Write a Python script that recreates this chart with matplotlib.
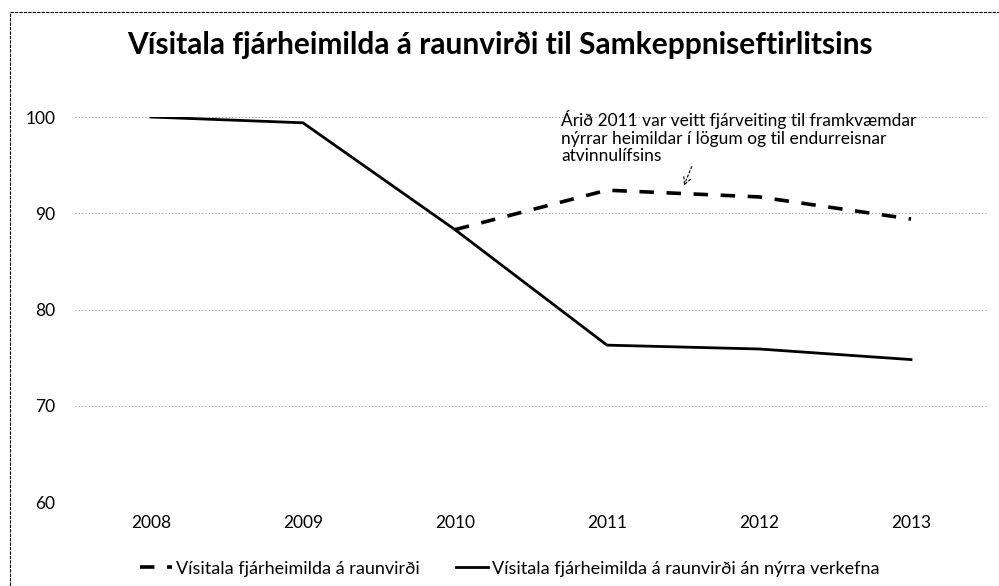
import matplotlib.pyplot as plt
from matplotlib.patches import Rectangle

plt.rcParams['font.family'] = ['Lato', 'DejaVu Sans']

years = ["2008", "2009", "2010", "2011", "2012", "2013"]
# dashed series only starts in 2010
med_nyjum = [None, None, 88.3, 92.4, 91.7, 89.4]
an_nyrra = [100.0, 99.4, 88.3, 76.3, 75.9, 74.8]

label_med = "Vísitala fjárheimilda á raunvirði"
label_an = "Vísitala fjárheimilda á raunvirði án nýrra verkefna"
title = "Vísitala fjárheimilda á raunvirði til Samkeppniseftirlitsins"
note = ("Árið 2011 var veitt fjárveiting til framkvæmdar\n"
        "nýrrar heimildar í lögum og til endurreisnar\n"
        "atvinnulífsins")

fig = plt.figure(figsize=(9.99, 5.86), dpi=100)
ax = fig.add_axes([0.075, 0.1433, 0.913, 0.657])

x = list(range(len(years)))
xd = [i for i, v in zip(x, med_nyjum) if v is not None]
yd = [v for v in med_nyjum if v is not None]

ax.plot(xd, yd, color="black", linewidth=2.6, linestyle=(0, (4, 3.5)),
        label=label_med)
ax.plot(x, an_nyrra, color="black", linewidth=2.0, label=label_an)

ax.set_xlim(-0.5, len(years) - 0.5)
ax.set_ylim(60, 100)
ax.set_yticks([60, 70, 80, 90, 100])
ax.set_xticks(x)
ax.set_xticklabels(years)
ax.tick_params(length=0, labelsize=12.5, pad=9)
ax.tick_params(axis="y", pad=14)
for s in ax.spines.values():
    s.set_visible(False)
for g in [70, 80, 90, 100]:
    ax.axhline(g, color="#9a9a9a", linewidth=0.8, linestyle=(0, (1, 2)),
               zorder=0)

ax.annotate(note, xy=(3.5, 92.6), xytext=(2.70, 100.7),
            fontsize=12.5, va="top", ha="left", linespacing=1.1,
            arrowprops=dict(arrowstyle="->", color="black", lw=0.8,
                            linestyle=(0, (2, 2)), shrinkA=0,
                            relpos=(0.4, 0.5)))

fig.text(0.5, 0.923, title, ha="center", va="center",
         fontsize=21.5, fontweight="bold")

fig.legend(loc="lower center", bbox_to_anchor=(0.51, -0.012), ncol=2,
           frameon=False, fontsize=13, handlelength=1.8, columnspacing=2.0,
           handletextpad=0.2)

# dashed frame of the chart area
fig.patches.append(Rectangle((0.01, -0.05), 1.05, 1.03,
                             transform=fig.transFigure, fill=False,
                             edgecolor="black", linewidth=0.8,
                             linestyle=(0, (3, 1))))

fig.savefig("out.png", dpi=100)
